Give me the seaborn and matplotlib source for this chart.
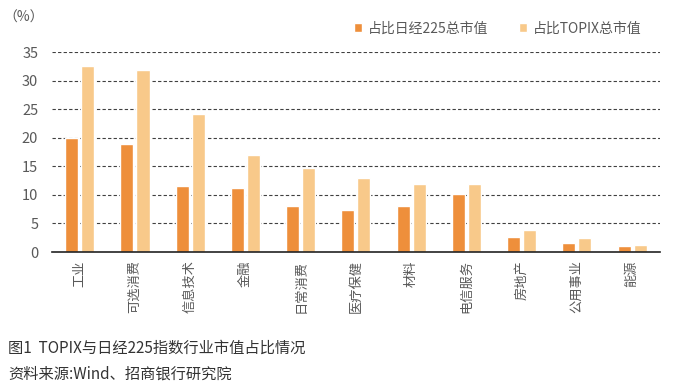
import pandas as pd
import matplotlib.pyplot as plt
import seaborn as sns

# --- données ---
sectors = ['工业', '可选消费', '信息技术', '金融', '日常消费', '医疗保健',
           '材料', '电信服务', '房地产', '公用事业', '能源']
nikkei = [20.0, 18.9, 11.5, 11.3, 8.0, 7.4, 8.0, 10.1, 2.7, 1.5, 1.1]
topix = [32.6, 31.8, 24.2, 17.0, 14.7, 12.9, 12.0, 12.0, 3.9, 2.5, 1.3]
series_names = ['占比日经225总市值', '占比TOPIX总市值']
colors = ['#EE8F3B', '#F8C98A']

df = pd.DataFrame({
    'sector': sectors * 2,
    'value': nikkei + topix,
    'series': [series_names[0]] * len(sectors) + [series_names[1]] * len(sectors),
})

sns.set_style('white')
plt.rcParams['font.family'] = ['Noto Sans CJK SC', 'DejaVu Sans']

fig = plt.figure(figsize=(6.76, 3.92), dpi=100)
ax = fig.add_axes([0.077, 0.357, 0.899, 0.51])

sns.barplot(data=df, x='sector', y='value', hue='series', palette=colors,
            saturation=1, width=0.58, gap=0.18, ax=ax)

ax.set_ylim(0, 35)
ax.set_yticks(range(0, 36, 5))
ax.set_xlim(-0.5, len(sectors) - 0.5)
ax.set_xlabel('')
ax.set_ylabel('')
for y in range(5, 36, 5):
    ax.axhline(y, color='#404040', lw=0.8, ls=(0, (3, 2)), zorder=0)
for s in ['top', 'right', 'left']:
    ax.spines[s].set_visible(False)
ax.spines['bottom'].set_color('#222222')
ax.spines['bottom'].set_linewidth(1.2)
ax.tick_params(axis='x', length=0, pad=6, labelsize=9.5, labelcolor='#595959')
ax.tick_params(axis='y', length=0, pad=10, labelsize=10.5, labelcolor='#595959')
plt.setp(ax.get_xticklabels(), rotation=90)

handles, labels = ax.get_legend_handles_labels()
ax.legend(handles, labels, loc='lower right', bbox_to_anchor=(0.99, 1.02),
          ncol=2, frameon=False, fontsize=10, handlelength=0.6,
          handleheight=0.6, handletextpad=0.4, columnspacing=2.2,
          labelcolor='#595959')

fig.text(0.005, 0.945, '（%）', fontsize=10, color='#595959')
fig.text(0.012, 0.1, '图1  TOPIX与日经225指数行业市值占比情况', fontsize=11, color='#333333')
fig.text(0.012, 0.035, '资料来源:Wind、招商银行研究院', fontsize=11, color='#333333')

fig.savefig('out.png', dpi=100)
